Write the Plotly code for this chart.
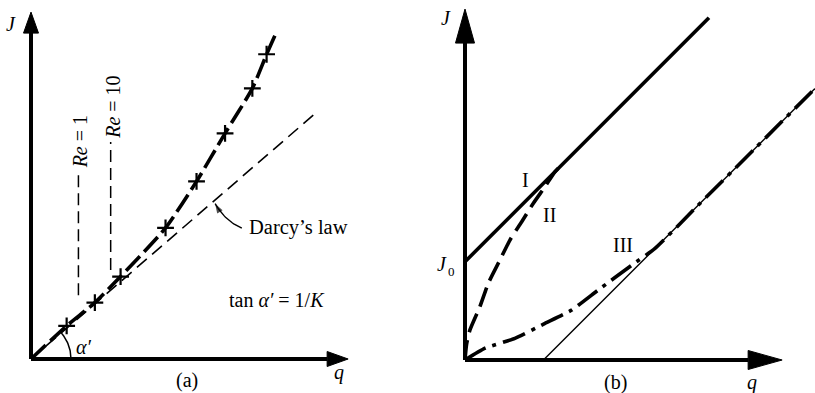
import numpy as np
import plotly.graph_objects as go

W, H = 815, 393
PX = 31.0          # pixels per unit, both panels
FONT = "Liberation Serif"
FS = 20

# ---------------- panel (a): Darcy's law and its breakdown ----------------
darcy_q = [0.0, 9.11]
darcy_J = [0.0, 7.87]

flow_q = [0.0, 1.15, 2.06, 2.89, 4.34, 5.34, 6.26, 7.14, 7.60, 7.92]
flow_J = [0.0, 1.07, 1.82, 2.66, 4.23, 5.73, 7.28, 8.73, 9.83, 10.55]

meas_q = [1.15, 2.06, 2.89, 4.34, 5.34, 6.26, 7.14, 7.60]
meas_J = [1.07, 1.82, 2.66, 4.23, 5.73, 7.28, 8.73, 9.83]

re_q = [1.53, 2.57]
re_J_low = [2.06, 2.87]
re_J_high = [6.10, 7.00]
re_text = ["1", "10"]
re_label_J = [7.02, 8.11]

a_axis_q_tip = 10.23
a_axis_J_tip = 11.19

# callout arrow towards the Darcy line: tail, bend, tip abscissa
callout_tail = (6.80, 4.22)
callout_mid = (6.31, 4.54)
callout_tip_q = 5.94

# ---------------- panel (b): threshold-gradient laws ----------------
J0 = 3.17
law1_q = [0.0, 7.87]
law1_J = [J0, J0 + 7.87]

law2_q = [0.0, 0.05, 0.16, 0.48, 0.75, 1.13, 1.45, 1.83, 2.20, 2.58, 2.90, 3.06]
law2_J = [0.0, 0.50, 0.97, 1.72, 2.47, 3.23, 3.87, 4.46, 5.05, 5.59, 6.07, 6.24]

law3_q = [0.0, 0.65, 1.61, 2.58, 3.44, 4.30, 5.38, 6.13, 7.50, 9.40, 11.29]
law3_J = [0.0, 0.38, 0.70, 1.18, 1.61, 2.26, 3.06, 3.60, 4.97, 6.87, 8.76]

asym_q = [2.53, 11.29]
asym_J = [0.0, 8.76]

b_axis_q_tip = 10.23
b_axis_J_tip = 11.32

# pixel origins of the two panels
A_OX, A_OY = 31, 359
B_OX, B_OY = 465, 360

fig = go.Figure()

def line_trace(x, y, width, dash="solid", axis="a", shape="linear", smoothing=1.0):
    xa, ya = ("x", "y") if axis == "a" else ("x2", "y2")
    return go.Scatter(x=x, y=y, mode="lines", xaxis=xa, yaxis=ya,
                      line=dict(color="black", width=width, dash=dash,
                                shape=shape, smoothing=smoothing),
                      hoverinfo="skip", showlegend=False)

# panel (a) curves
fig.add_trace(line_trace(darcy_q, darcy_J, 1.6, "13px,7px"))
fig.add_trace(line_trace(flow_q, flow_J, 3.6, "20px,6px", shape="spline", smoothing=0.6))
fig.add_trace(go.Scatter(x=meas_q, y=meas_J, mode="markers", xaxis="x", yaxis="y",
                         marker=dict(symbol="cross-thin", size=12, color="black",
                                     line=dict(width=2.2, color="black")),
                         hoverinfo="skip", showlegend=False))
for q, lo, hi in zip(re_q, re_J_low, re_J_high):
    fig.add_trace(line_trace([q, q], [lo, hi], 1.5, "12px,6px"))

# angle arc for alpha'
slope = darcy_J[1] / darcy_q[1]
theta = np.linspace(0, np.arctan(slope), 40)
r = 40 / PX
fig.add_trace(line_trace(r * np.cos(theta), r * np.sin(theta), 1.5))

# curved callout arrow (quadratic Bezier through the bend point)
tip = np.array([callout_tip_q, np.interp(callout_tip_q, darcy_q, darcy_J) - 0.12])
p0 = np.array(callout_tail)
ctrl = 2 * np.array(callout_mid) - 0.5 * (p0 + tip)
t = np.linspace(0, 1, 25)[:, None]
bez = (1 - t) ** 2 * p0 + 2 * (1 - t) * t * ctrl + t ** 2 * tip
sizes = [0] * (len(bez) - 1) + [10]
fig.add_trace(go.Scatter(x=bez[:, 0], y=bez[:, 1], mode="lines+markers", xaxis="x", yaxis="y",
                         line=dict(color="black", width=1.4),
                         marker=dict(symbol="arrow", size=sizes, angleref="previous",
                                     color="black", line=dict(width=0)),
                         hoverinfo="skip", showlegend=False))

# panel (b) curves
fig.add_trace(line_trace(asym_q, asym_J, 1.4, axis="b"))
fig.add_trace(line_trace(law1_q, law1_J, 3.6, axis="b"))
fig.add_trace(line_trace(law2_q, law2_J, 3.6, "20px,8px", axis="b", shape="spline", smoothing=0.6))
fig.add_trace(line_trace(law3_q, law3_J, 3.6, "24px,7px,4px,7px", axis="b", shape="spline", smoothing=0.5))

# ---------------- axes with arrowheads ----------------
shapes = []

def axis_with_arrow(xref, yref, q_tip, J_tip, head_len, head_half):
    L = head_len / PX
    h = head_half / PX
    # horizontal axis
    shapes.append(dict(type="line", xref=xref, yref=yref, x0=0, y0=0, x1=q_tip - L, y1=0,
                       line=dict(color="black", width=4)))
    shapes.append(dict(type="path", xref=xref, yref=yref,
                       path=f"M {q_tip} 0 L {q_tip - L} {h} L {q_tip - L} {-h} Z",
                       fillcolor="black", line=dict(color="black", width=1)))
    # vertical axis
    shapes.append(dict(type="line", xref=xref, yref=yref, x0=0, y0=0, x1=0, y1=J_tip - L,
                       line=dict(color="black", width=4)))
    shapes.append(dict(type="path", xref=xref, yref=yref,
                       path=f"M 0 {J_tip} L {h} {J_tip - L} L {-h} {J_tip - L} Z",
                       fillcolor="black", line=dict(color="black", width=1)))

axis_with_arrow("x", "y", a_axis_q_tip, a_axis_J_tip, 21, 7.5)
axis_with_arrow("x2", "y2", b_axis_q_tip, b_axis_J_tip, 34, 9.5)

# ---------------- labels ----------------
def label(text, x, y, axis="a", size=FS, angle=0, xanchor="center", yanchor="middle", **kw):
    xr, yr = ("x", "y") if axis == "a" else ("x2", "y2")
    return dict(text=text, x=x, y=y, xref=xr, yref=yr, showarrow=False,
                textangle=angle, xanchor=xanchor, yanchor=yanchor,
                font=dict(family=FONT, size=size, color="black"), **kw)

ann = [
    label("<i>J</i>", -0.65, 10.81),
    label("(a)", 5.03, -0.68),
    label("<i>q</i>", 9.94, -0.42),
    label("Darcy’s law", 6.97, 4.23, xanchor="left", size=20.5),
    label("tan <i>α′</i> = 1/<i>K</i>", 7.95, 1.9),
    label("<i>α′</i>", 1.68, 0.39),
]
for q, txt, yj in zip(re_q, re_text, re_label_J):
    ann.append(label(f"<i>Re</i> = {txt}", q + 0.05, yj, angle=-90))

ann += [
    label("<i>J</i>", -0.61, 11.03, axis="b"),
    # J0 written as a J with a small raised-down zero next to it
    label("<i>J</i>", -0.75, J0 - 0.08, axis="b"),
    label("0", -0.45, J0 - 0.30, axis="b", size=13),
    label("I", 1.94, 5.81, axis="b"),
    label("II", 2.71, 4.68, axis="b"),
    label("III", 5.10, 3.71, axis="b"),
    label("(b)", 4.84, -0.71, axis="b"),
    label("<i>q</i>", 9.26, -0.74, axis="b"),
]

hidden = dict(visible=False, showgrid=False, zeroline=False, fixedrange=True)
fig.update_layout(
    width=W, height=H,
    margin=dict(l=0, r=0, t=0, b=0),
    paper_bgcolor="white", plot_bgcolor="rgba(0,0,0,0)",
    showlegend=False,
    xaxis=dict(domain=[0, 1], range=[-A_OX / PX, (W - A_OX) / PX], **hidden),
    yaxis=dict(domain=[0, 1], range=[-(H - A_OY) / PX, A_OY / PX], **hidden),
    xaxis2=dict(domain=[0, 1], range=[-B_OX / PX, (W - B_OX) / PX], anchor="y2", **hidden),
    yaxis2=dict(domain=[0, 1], range=[-(H - B_OY) / PX, B_OY / PX], anchor="x2", **hidden),
    shapes=shapes,
    annotations=ann,
)

fig.write_html("out.html", config={"displayModeBar": False})
